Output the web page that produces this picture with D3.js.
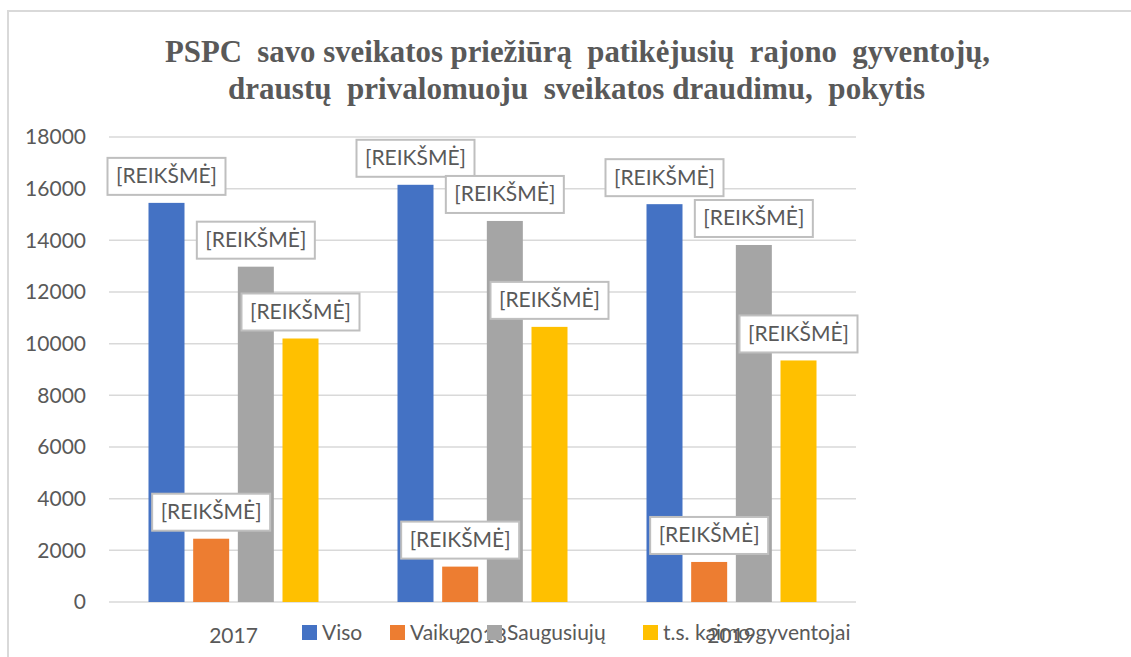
<!DOCTYPE html>
<html>
<head>
<meta charset="utf-8">
<script src="https://cdn.jsdelivr.net/npm/d3@7"></script>
<style>
  body { margin: 0; background: #fff; }
  svg { display: block; }
</style>
</head>
<body>
<svg id="chart" width="1131" height="657"></svg>
<script>
// data
const years = ["2017", "2018", "2019"];
const seriesNames = ["Viso", "Vaikų", "Saugusiujų", "t.s. kaimo gyventojai"];
const viso = [15450, 16150, 15400];
const vaiku = [2450, 1370, 1550];
const saugusiuju = [12980, 14750, 13820];
const kaimo = [10200, 10650, 9350];
const yTicks = [0, 2000, 4000, 6000, 8000, 10000, 12000, 14000, 16000, 18000];
const labelText = "[REIKŠMĖ]";
const titleLines = [
    "PSPC  savo sveikatos priežiūrą  patikėjusių  rajono  gyventojų,",
    "draustų  privalomuoju  sveikatos draudimu,  pokytis"
];

const colors = ["#4472C4", "#ED7D31", "#A5A5A5", "#FFC000"];
const textColor = "#595959";
const gridColor = "#d9d9d9";

const width = 1131;
const height = 657;
const plot = {left: 109, right: 856, top: 137, bottom: 602};

const svg = d3.select("#chart");

// outer frame (top and left edges visible)
svg.append("path")
    .attr("d", `M8,${height} L8,11 L${width},11`)
    .attr("fill", "none")
    .attr("stroke", gridColor)
    .attr("stroke-width", 2)

// title
svg.append("g")
    .selectAll("text")
    .data(titleLines)
    .enter()
    .append("text")
    .attr("x", (d, i) => i === 0 ? 165 : 228)
    .attr("y", (d, i) => 62 + i * 37)
    .attr("textLength", (d, i) => i === 0 ? 825 : 697)
    .attr("lengthAdjust", "spacingAndGlyphs")
    .attr("xml:space", "preserve")
    .style("font-family", "'Liberation Serif', 'Times New Roman', serif")
    .style("font-weight", "bold")
    .style("font-size", "31px")
    .style("fill", textColor)
    .text(d => d)

const y = d3.scaleLinear()
    .domain([0, 18000])
    .range([plot.bottom, plot.top]);

const x0 = d3.scaleBand()
    .domain(years)
    .range([plot.left, plot.right])
    .padding(0);

// groups of 4 bars take about 170px of the 249px band
const groupPad = (x0.bandwidth() - 170) / 2;
const x1 = d3.scaleBand()
    .domain(seriesNames)
    .range([groupPad, x0.bandwidth() - groupPad])
    .paddingInner(0.194)
    .paddingOuter(0);

// gridlines
svg.append("g")
    .selectAll("line")
    .data(yTicks)
    .enter()
    .append("line")
    .attr("x1", plot.left)
    .attr("x2", plot.right)
    .attr("y1", d => y(d))
    .attr("y2", d => y(d))
    .attr("stroke", gridColor)
    .attr("stroke-width", 1.5)

// y axis labels
const yAxis = svg.append("g")
    .attr("transform", "translate(86,0)")
    .call(d3.axisLeft(y).tickValues(yTicks).tickSize(0).tickPadding(0).tickFormat(d3.format("d")));
yAxis.select(".domain").remove();
yAxis.selectAll("text")
    .style("font-family", "Lato, 'Open Sans', sans-serif")
    .style("font-size", "21px")
    .style("fill", textColor)

// x axis labels
const xAxis = svg.append("g")
    .attr("transform", `translate(0,${plot.bottom})`)
    .call(d3.axisBottom(x0).tickSize(0).tickPadding(26));
xAxis.select(".domain").remove();
xAxis.selectAll("text")
    .style("font-family", "Lato, 'Open Sans', sans-serif")
    .style("font-size", "21px")
    .style("fill", textColor)

const allSeries = [viso, vaiku, saugusiuju, kaimo];
const barData = [];
years.forEach((yr, i) => {
    seriesNames.forEach((s, j) => {
        barData.push({year: yr, series: s, value: allSeries[j][i], color: colors[j]});
    });
});

// bars
svg.append("g")
    .selectAll("rect")
    .data(barData)
    .enter()
    .append("rect")
    .attr("x", d => x0(d.year) + x1(d.series))
    .attr("y", d => y(d.value))
    .attr("width", x1.bandwidth())
    .attr("height", d => y(0) - y(d.value))
    .attr("fill", d => d.color)

// data labels (placeholder text in boxes)
const boxW = 118, boxH = 37;
const labels = svg.append("g")
    .selectAll("g")
    .data(barData)
    .enter()
    .append("g")
    .attr("transform", d => {
        const cx = x0(d.year) + x1(d.series) + x1.bandwidth() / 2;
        return `translate(${cx},${y(d.value) - 8 - boxH})`;
    });

labels.append("rect")
    .attr("x", -boxW / 2)
    .attr("y", 0)
    .attr("width", boxW)
    .attr("height", boxH)
    .attr("fill", "#fff")
    .attr("stroke", "#bfbfbf")
    .attr("stroke-width", 2)

labels.append("text")
    .attr("x", 0)
    .attr("y", boxH / 2 + 7)
    .style("text-anchor", "middle")
    .style("font-family", "Lato, 'Open Sans', sans-serif")
    .style("font-size", "21px")
    .style("fill", textColor)
    .text(labelText)

// legend
const legendX = [302, 390, 487, 643];
const legend = svg.append("g")
    .selectAll("g")
    .data(seriesNames)
    .enter()
    .append("g")
    .attr("transform", (d, i) => `translate(${legendX[i]},625)`);

legend.append("rect")
    .attr("width", 15)
    .attr("height", 15)
    .attr("fill", (d, i) => colors[i])

legend.append("text")
    .attr("x", 20)
    .attr("y", 15)
    .style("font-family", "Lato, 'Open Sans', sans-serif")
    .style("font-size", "21px")
    .style("fill", textColor)
    .text(d => d)
</script>
</body>
</html>
